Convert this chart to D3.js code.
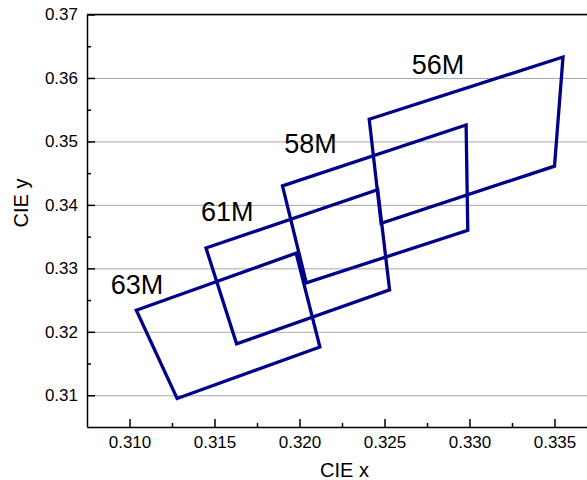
<!DOCTYPE html>
<html>
<head>
<meta charset="utf-8">
<script src="https://cdn.jsdelivr.net/npm/d3@7"></script>
<style>
  body { margin: 0; background: #fff; }
  svg { display: block; font-family: "Liberation Sans", Arial, sans-serif; }
  .tick text { font-size: 17px; fill: #000; }
</style>
</head>
<body>
<script>
// MacAdam-style quadrangles, one per CCT label
const labels = ["63M", "61M", "58M", "56M"];
// corners: top-left, top-right, bottom-right, bottom-left
const cornerX = [
  [0.3104, 0.3198, 0.3212, 0.3128],
  [0.3145, 0.3246, 0.3253, 0.3163],
  [0.3190, 0.3298, 0.3299, 0.3204],
  [0.3241, 0.3355, 0.3350, 0.3248]
];
const cornerY = [
  [0.3234, 0.3324, 0.3176, 0.3095],
  [0.3332, 0.3424, 0.3266, 0.3181],
  [0.3430, 0.3526, 0.3360, 0.3277],
  [0.3535, 0.3633, 0.3461, 0.3371]
];
const labelX = [0.3089, 0.3142, 0.3191, 0.3266];
const labelY = [0.3260, 0.3375, 0.3481, 0.3606];

const xTicks = [0.310, 0.315, 0.320, 0.325, 0.330, 0.335];
const xMinor = [0.3125, 0.3175, 0.3225, 0.3275, 0.3325];
const yTicks = [0.31, 0.32, 0.33, 0.34, 0.35, 0.36, 0.37];
const yMinor = [0.315, 0.325, 0.335, 0.345, 0.355, 0.365];

const w = 587;
const h = 480;
const padLeft = 87, padTop = 14.5, axisBottomY = 427;

const x = d3.scaleLinear().domain([0.3075, 0.3375]).range([padLeft, 597]);
const y = d3.scaleLinear().domain([0.305, 0.37]).range([axisBottomY, padTop]);

const svg = d3.select("body")
  .append("svg")
  .attr("width", w)
  .attr("height", h);

// horizontal grid
svg.append("g")
  .attr("transform", `translate(${padLeft},0)`)
  .call(d3.axisLeft(y).tickValues(yTicks).tickSize(-(w - padLeft)).tickFormat(""))
  .call(g => g.select(".domain").remove())
  .call(g => g.selectAll("line").attr("stroke", "#a8a8a8").attr("stroke-width", 1));

// top border
svg.append("line")
  .attr("x1", padLeft).attr("x2", w)
  .attr("y1", y(0.37)).attr("y2", y(0.37))
  .attr("stroke", "#000").attr("stroke-width", 1.5);

// quadrangles
const quads = labels.map((name, i) => ({
  name,
  pts: cornerX[i].map((cx, j) => [cx, cornerY[i][j]])
}));

const line = d3.line().x(d => x(d[0])).y(d => y(d[1])).curve(d3.curveLinearClosed);

svg.selectAll("path.quad")
  .data(quads)
  .enter()
  .append("path")
  .attr("class", "quad")
  .attr("d", d => line(d.pts))
  .attr("fill", "none")
  .attr("stroke", "#000088")
  .attr("stroke-width", 3.3)
  .attr("stroke-linejoin", "miter");

svg.selectAll("text.qlabel")
  .data(labels)
  .enter()
  .append("text")
  .attr("class", "qlabel")
  .text(d => d)
  .attr("x", (d, i) => x(labelX[i]))
  .attr("y", (d, i) => y(labelY[i]))
  .attr("font-size", 27)
  .attr("fill", "#000");

// y axis
svg.append("g")
  .attr("transform", `translate(${padLeft},0)`)
  .call(d3.axisLeft(y).tickValues(yTicks).tickSize(-8).tickSizeOuter(0).tickPadding(9).tickFormat(d3.format(".2f")))
  .call(g => g.select(".domain").attr("stroke-width", 1.5))
  .call(g => g.selectAll(".tick line").attr("stroke-width", 1.5));

svg.append("g")
  .attr("transform", `translate(${padLeft},0)`)
  .call(d3.axisLeft(y).tickValues(yMinor).tickSize(-4).tickFormat(""))
  .call(g => g.select(".domain").remove())
  .call(g => g.selectAll("line").attr("stroke-width", 1.5));

// x axis
svg.append("g")
  .attr("transform", `translate(0,${axisBottomY})`)
  .call(d3.axisBottom(x).tickValues(xTicks).tickSize(-8).tickSizeOuter(0).tickPadding(9).tickFormat(d3.format(".3f")))
  .call(g => g.select(".domain").attr("stroke-width", 1.5))
  .call(g => g.selectAll(".tick line").attr("stroke-width", 1.5));

svg.append("g")
  .attr("transform", `translate(0,${axisBottomY})`)
  .call(d3.axisBottom(x).tickValues(xMinor).tickSize(-4).tickFormat(""))
  .call(g => g.select(".domain").remove())
  .call(g => g.selectAll("line").attr("stroke-width", 1.5));

svg.selectAll(".tick text").attr("font-family", null).attr("font-size", null);

// axis titles
svg.append("text")
  .text("CIE x")
  .attr("x", 344.5)
  .attr("y", 477)
  .attr("text-anchor", "middle")
  .attr("font-size", 20);

svg.append("text")
  .text("CIE y")
  .attr("transform", "translate(28,203) rotate(-90)")
  .attr("text-anchor", "middle")
  .attr("font-size", 20);
</script>
</body>
</html>
